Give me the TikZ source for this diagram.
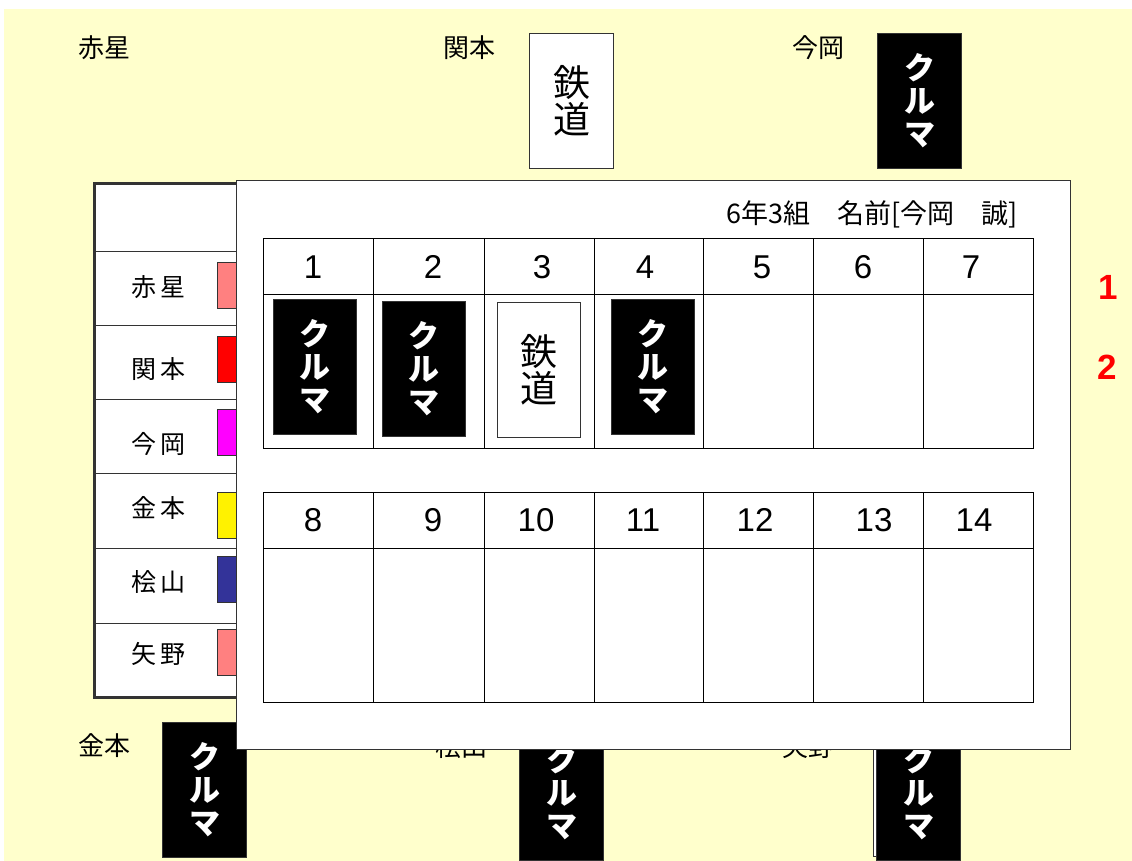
\documentclass[tikz,border=0pt]{standalone}
\usepackage{fontspec}
\setmainfont{Liberation Sans}
\newfontfamily\jpfont{Noto Sans CJK JP}
\usepackage{tikz}
\usetikzlibrary{positioning}
\definecolor{paper}{HTML}{FFFFCC}
\definecolor{mypink}{HTML}{FF8080}
\definecolor{mymagenta}{HTML}{FF00FF}
\definecolor{mynavy}{HTML}{333399}
\definecolor{myline}{HTML}{333333}

\begin{document}
\begin{tikzpicture}[x=1pt, y=-1pt,
		carcard/.style={draw=myline, line width=1pt, fill=black, text=white, anchor=north west, minimum width=84pt, minimum height=135pt, inner sep=0pt, align=center, font=\jpfont\bfseries\fontsize{31}{33}\selectfont},
		railcard/.style={carcard, fill=white, text=black, font=\jpfont\fontsize{37}{37}\selectfont},
		person/.style={font=\jpfont\fontsize{26}{26}\selectfont},
		rowname/.style={font=\jpfont\fontsize{25}{25}\selectfont},
		swatch/.style={draw=myline, line width=1pt, anchor=north west, minimum width=36pt, minimum height=46pt, inner sep=0pt},
		num/.style={font=\fontsize{33}{33}\selectfont},
		grid/.style={draw=black, line width=1pt}]
	\useasboundingbox (0,0) rectangle (1132,861);
	\fill[paper] (4,9) rectangle (1132,861);
	% players and their cards
	\node[person] (tAkaboshi) at (104,48) {赤星};
	\node[person] (tSekimoto) at (469,48) {関本};
	\node[person] (tImaoka) at (818,48) {今岡};
	\node[person] (bKanemoto) at (104,746) {金本};
	\node[person] (bHiyama) at (461,747) {桧山};
	\node[person] (bYano) at (808,747) {矢野};
	\node[railcard] (cSekimoto) at (529,33) {鉄\\道};
	\node[carcard] (cImaoka) at (877,33) {ク\\ル\\マ};
	\node[carcard] (cKanemoto) at (162,722) {ク\\ル\\マ};
	\node[carcard] (cHiyama) at (519,725) {ク\\ル\\マ};
	\draw[myline, fill=white] (873,722) rectangle (958,856);
	\node[carcard] (cYano) at (876,725) {ク\\ル\\マ};
	% list of players
	\draw[myline, line width=3pt, fill=white] (94,184) rectangle (300,697);
	\foreach \y in {251,325,399,473,548,623}
		\draw[myline] (94,\y) -- (300,\y);
	\foreach \a/\b/\y/\c/\t in {赤/星/287/mypink/262, 関/本/369/red/336, 今/岡/444/mymagenta/409, 金/本/508/yellow/492, 桧/山/582/mynavy/556, 矢/野/654/mypink/629}{
		\node[rowname] (row\y) at (158,\y) {\a\hspace{4pt}\b};
		\node[swatch, fill=\c] (sw\y) at (217,\t) {};
	}
	% score sheet
	\draw[myline, fill=white] (236,180) rectangle (1070,749);
	\node[font=\jpfont\fontsize{27}{27}\selectfont] (title) at (872,214) {6年3組　名前[今岡　誠]};
	\foreach \t in {238,492}{
		\draw[grid] (263,\t) rectangle (1033,\t+210);
		\draw[grid] (263,\t+56) -- (1033,\t+56);
		\foreach \x in {373,484,594,703,813,923}
			\draw[grid] (\x,\t) -- (\x,\t+210);
	}
	\foreach \n/\x in {1/313,2/433,3/542,4/645,5/762,6/863,7/971}
		\node[num] (n\n) at (\x,267) {\n};
	\foreach \n/\x in {8/313,9/433,10/536,11/643,12/755,13/874,14/974}
		\node[num] (n\n) at (\x,520) {\n};
	\node[carcard, minimum width=83pt] (p1) at (273,299) {ク\\ル\\マ};
	\node[carcard, minimum width=83pt] (p2) at (382,301) {ク\\ル\\マ};
	\node[railcard, minimum width=83pt] (p3) at (497,302) {鉄\\道};
	\node[carcard, minimum width=83pt] (p4) at (611,299) {ク\\ル\\マ};
	\node[text=red, font=\bfseries\fontsize{35}{35}\selectfont] (r1) at (1108,287) {1};
	\node[text=red, font=\bfseries\fontsize{35}{35}\selectfont] (r2) at (1107,367) {2};
\end{tikzpicture}
\end{document}
